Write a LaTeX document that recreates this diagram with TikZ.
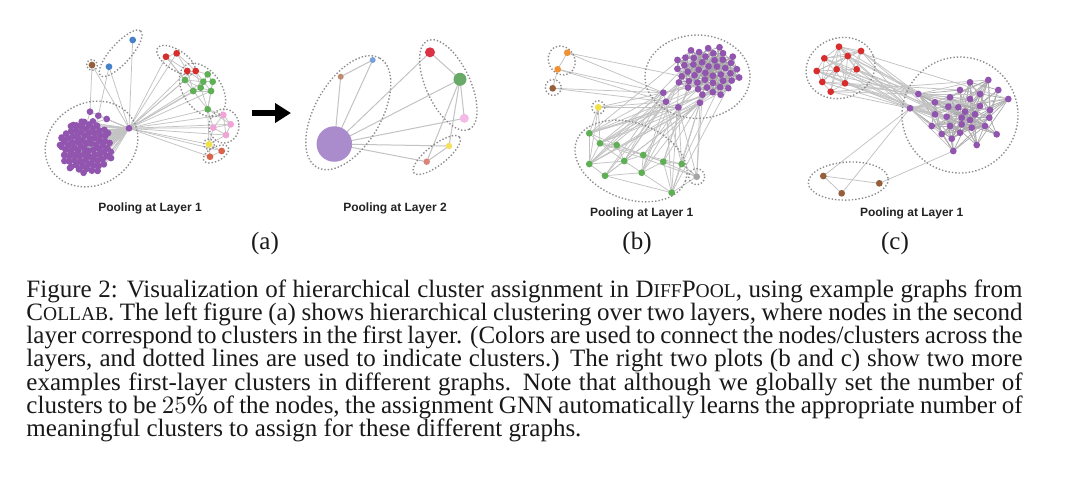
\documentclass[tikz,border=0pt]{standalone}
\usepackage{fontspec}
\setmainfont{Liberation Serif}
\newfontfamily\lsans{Liberation Sans}
\usetikzlibrary{arrows.meta,backgrounds}
\definecolor{apur}{RGB}{145,85,175}
\definecolor{agrn}{RGB}{95,175,85}
\definecolor{ared}{RGB}{215,45,45}
\definecolor{ablu}{RGB}{70,130,200}
\definecolor{abrn}{RGB}{150,95,60}
\definecolor{apnk}{RGB}{240,165,215}
\definecolor{aylw}{RGB}{240,225,70}
\definecolor{asal}{RGB}{215,100,75}
\definecolor{borg}{RGB}{240,145,50}
\definecolor{bgry}{RGB}{165,165,165}
\definecolor{lpur}{RGB}{170,140,205}
\definecolor{lred}{RGB}{220,50,70}
\definecolor{lgrn}{RGB}{105,170,105}
\definecolor{lpnk}{RGB}{245,185,230}
\definecolor{lylw}{RGB}{245,225,95}
\definecolor{lsal}{RGB}{220,130,120}
\definecolor{lbrn}{RGB}{190,140,110}
\definecolor{lblu}{RGB}{120,160,220}
\definecolor{edgec}{RGB}{195,195,195}
\definecolor{cluc}{RGB}{140,140,140}
\definecolor{labc}{RGB}{35,35,35}
\definecolor{capc}{RGB}{25,25,25}
\newcommand\sm[1]{{\fontsize{7.8pt}{9pt}\selectfont #1}}
\newcommand\clus[5]{\draw[clu, rotate around={#5:(#1,#2)}] (#1,#2) ellipse [x radius=#3, y radius=#4];}
\begin{document}
\begin{tikzpicture}[x=0.4pt,y=-0.4pt,
  dot/.style={circle,inner sep=0pt,minimum size=2.7pt,draw=none},
  ed/.style={draw=edgec,line width=0.3pt},
  clu/.style={draw=cluc,line width=0.55pt,dash pattern=on 0.55pt off 0.8pt},
  lab/.style={font=\lsans\bfseries\fontsize{4.8pt}{5pt}\selectfont, text=labc, inner sep=0pt, anchor=base},
  sub/.style={font=\fontsize{10pt}{12pt}\selectfont, text=capc, inner sep=0pt, anchor=base}]
\begin{scope}[on background layer]
\fill[white] (0,0) rectangle (1080,503);
\end{scope}
\useasboundingbox (0,0) rectangle (1080,503);
\pgfmathsetseed{2024}

%% ===== Panel (a), layer 1 =====
\clus{120.7}{53.3}{30}{10}{48}
\clus{92}{65}{5.5}{5.5}{0}
\clus{176}{60}{22}{10}{-33}
\clus{202.5}{90}{30}{19}{-55}
\clus{224}{126}{15}{17}{0}
\clus{209}{144.3}{5.5}{5.5}{0}
\clus{216}{154}{14}{7}{28}
\clus{91.5}{144}{48}{41}{30}

\foreach \i in {1,...,80}{
  \pgfmathsetmacro\rr{sqrt((\i-0.5)/80)}
  \pgfmathsetmacro\aa{\i*137.508}
  \node[dot,fill=apur] (A\i) at ({86+26*\rr*cos(\aa)},{147+27*\rr*sin(\aa)}) {};
}
\foreach \x/\y [count=\i] in {90/111.7,98.3/115.7,106.7/119,73.3/125,81.7/121.7,61.7/138.3,60/145,108/133,111/158,70/168}{
  \node[dot,fill=apur] (At\i) at (\x,\y) {};
}
\node[dot,fill=apur] (ah) at (129,128.3) {};
\node[dot,fill=ablu] (ab1) at (132.7,40) {};
\node[dot,fill=ablu] (ab2) at (109,66.7) {};
\node[dot,fill=abrn] (abr) at (92,65) {};
\foreach \n/\x/\y in {ar1/166/56.7,ar2/176.7/53.3,ar3/187.3/71,ar4/195.7/71}{
  \node[dot,fill=ared] (\n) at (\x,\y) {};
}
\foreach \n/\x/\y in {ag1/207.7/74.3,ag2/185/80,ag3/203.3/81.7,ag4/212.7/81.7,ag5/193.3/91,ag6/200.7/87.7,ag7/211/91,ag8/207.7/109.3}{
  \node[dot,fill=agrn] (\n) at (\x,\y) {};
}
\foreach \n/\x/\y in {ap1/223.3/115,ap2/230.7/124.3,ap3/213.3/127.7,ap4/226/135}{
  \node[dot,fill=apnk] (\n) at (\x,\y) {};
}
\node[dot,fill=aylw] (ay) at (209,144.3) {};
\node[dot,fill=asal] (ao1) at (210,156.7) {};
\node[dot,fill=asal] (ao2) at (221.7,151) {};

\begin{scope}[on background layer]
  \foreach \i in {1,...,80}{
    \foreach \k in {1,2,3}{
      \pgfmathtruncatemacro\j{random(1,80)}
      \draw[ed,draw=gray!70] (A\i.center) -- (A\j.center);
    }
    \pgfmathtruncatemacro\f{rnd<0.55?1:0}
    \ifnum\f=1 \draw[ed] (A\i.center) -- (ah.center);\fi
  }
  \foreach \i in {1,...,10}{
    \pgfmathtruncatemacro\j{random(1,80)}
    \draw[ed] (At\i.center) -- (A\j.center);
    \draw[ed] (At\i.center) -- (ah.center);
  }
  \foreach \u/\v in {ab1/ah,ab2/ah,ab2/At2,abr/At1,abr/ah,
    ah/ar1,ah/ar2,ah/ar3,ah/ar4,ah/ag2,ah/ag3,ah/ag5,ah/ag6,ah/ag7,ah/ag8,
    ah/ap1,ah/ap2,ah/ap3,ah/ap4,ah/ay,ah/ao1,ah/ao2,
    ar1/ar2,ar1/ar3,ar2/ar3,ar2/ar4,ar1/ag2,ar3/ar4,ar3/ag2,ar3/ag3,ar4/ag1,ar4/ag3,
    ar4/ag6,ar3/ag5,ag1/ag3,ag1/ag4,ag2/ag3,ag2/ag5,ag2/ag6,ag3/ag4,ag3/ag6,ag3/ag7,
    ag4/ag7,ag5/ag6,ag6/ag7,ag5/ag7,ag5/ag8,ag6/ag8,ag7/ag8,ag4/ag8,ag1/ag6,ar1/ag5,
    ap1/ap2,ap1/ap3,ap2/ap3,ap2/ap4,ap3/ap4,ap1/ap4,ag8/ap1,ag8/ap3,ag8/ap2,
    ay/ap3,ay/ap4,ay/ag8,ay/ao1,ay/ao2,ao1/ao2}{
    \draw[ed] (\u.center) -- (\v.center);
  }
\end{scope}
\node[lab] (la1) at (150,211) {Pooling at Layer 1};

\coordinate (arS) at (252,113);
\coordinate (arE) at (291,113);
\draw[line width=2.4pt,-{Triangle[length=6.4pt,width=7.6pt]}] (arS) -- (arE);

%% ===== Panel (a), layer 2 =====
\clus{348.3}{112.7}{63}{33}{60}
\clus{448.3}{85}{49}{22}{-65}
\clus{436.7}{155}{29}{10}{38}
\node[circle,inner sep=0pt,minimum size=14.2pt,fill=lpur] (lp) at (334.3,144) {};
\node[circle,inner sep=0pt,minimum size=2.4pt,fill=lbrn] (lb) at (340.7,76.7) {};
\node[circle,inner sep=0pt,minimum size=2.4pt,fill=lblu] (lu) at (372.7,60) {};
\node[circle,inner sep=0pt,minimum size=4pt,fill=lred] (lr) at (430,52.3) {};
\node[circle,inner sep=0pt,minimum size=5.2pt,fill=lgrn] (lg) at (460,79.3) {};
\node[circle,inner sep=0pt,minimum size=3.6pt,fill=lpnk] (lk) at (464.3,118.3) {};
\node[circle,inner sep=0pt,minimum size=2.6pt,fill=lylw] (ly) at (449,146) {};
\node[circle,inner sep=0pt,minimum size=2.6pt,fill=lsal] (ls) at (426.7,161.7) {};
\begin{scope}[on background layer]
  \foreach \u/\v in {lp/lb,lp/lu,lb/lu,lp/lr,lp/lg,lp/lk,lp/ly,lp/ls,lr/lg,lg/lk,lg/ly,lg/ls,ly/ls}{
    \draw[ed,line width=0.4pt] (\u.center) -- (\v.center);
  }
\end{scope}
\node[lab] (la2) at (395,211) {Pooling at Layer 2};

%% ===== Panel (b) =====
\clus{697.5}{76.7}{52.5}{41.7}{0}
\clus{631}{161}{58}{38}{-20}
\clus{561.7}{60.5}{13}{15}{30}
\clus{553.3}{87.5}{8}{8}{0}
\clus{598.3}{107.3}{6.5}{6.5}{0}
\clus{696.7}{176.7}{8}{8}{0}
\foreach \i in {1,...,46}{
  \pgfmathsetmacro\rr{sqrt((\i-0.5)/46)}
  \pgfmathsetmacro\aa{\i*137.508}
  \node[dot,fill=apur] (B\i) at ({708+34*\rr*cos(\aa)},{71+26*\rr*sin(\aa)}) {};
}
\foreach \n/\x/\y in {bq1/663.3/92.7,bq2/666/101.7,bq3/678.3/107.3,bq4/700/102.7}{
  \node[dot,fill=apur] (\n) at (\x,\y) {};
}
\node[dot,fill=borg] (bo1) at (567.3,52.7) {};
\node[dot,fill=borg] (bo2) at (557.7,69.3) {};
\node[dot,fill=abrn] (bb) at (552.7,88.3) {};
\node[dot,fill=aylw] (byl) at (598.3,107.3) {};
\node[dot,fill=bgry] (bgy) at (696.7,176.7) {};
\foreach \x/\y [count=\i] in {589.3/133.3,600/143.3,616.7/145,589.3/164,624.3/161,643.3/155,663.3/161.7,681.7/164,605/175.7,641.7/172.7,671.7/192.7}{
  \node[dot,fill=agrn] (bg\i) at (\x,\y) {};
}
\begin{scope}[on background layer]
  \foreach \i in {1,...,46}{
    \foreach \k in {1,2,3,4}{
      \pgfmathtruncatemacro\j{random(1,46)}
      \draw[ed,draw=gray!70] (B\i.center) -- (B\j.center);
    }
  }
  \foreach \s in {bq1,bq2,bq3,bq4}{
    \foreach \k in {1,2,3}{
      \pgfmathtruncatemacro\j{random(1,46)}
      \draw[ed] (\s.center) -- (B\j.center);
    }
    \foreach \t in {1,...,11}{
      \pgfmathtruncatemacro\f{rnd<0.55?1:0}
      \ifnum\f=1 \draw[ed] (\s.center) -- (bg\t.center);\fi
    }
  }
  \foreach \k in {1,...,16}{
    \pgfmathtruncatemacro\s{random(26,46)}
    \pgfmathtruncatemacro\t{random(1,11)}
    \draw[ed] (B\s.center) -- (bg\t.center);
  }
  \foreach \u/\v in {bo1/bo2,bo2/bb,bo1/bq1,bo1/B30,bo2/bq1,bo2/bq2,bb/bq1,bb/bq2,
    byl/bq1,byl/bq2,byl/bq3,byl/bg1,byl/bg2,byl/bg4,
    bgy/bq3,bgy/bq4,bgy/B40,bgy/bg7,bgy/bg8,bgy/bg11,bgy/bg2,
    bg1/bg2,bg1/bg4,bg2/bg3,bg2/bg4,bg2/bg5,bg3/bg5,bg3/bg6,bg4/bg5,bg4/bg9,bg5/bg6,
    bg5/bg9,bg5/bg10,bg6/bg7,bg6/bg10,bg7/bg8,bg7/bg10,bg7/bg11,bg8/bg11,bg9/bg10,
    bg10/bg11,bg1/bg3,bg2/bg6,bg3/bg7,bg6/bg8,bg9/bg11,bg8/bgy}{
    \draw[ed] (\u.center) -- (\v.center);
  }
\end{scope}
\node[lab] (lb1) at (641.7,216) {Pooling at Layer 1};

%% ===== Panel (c) =====
\clus{840.5}{68}{35}{30}{20}
\clus{960}{115}{58}{58}{0}
\clus{848.3}{181}{40}{19}{3}
\foreach \x/\y [count=\i] in {918.3/94,910/108.3,970/82.3,988.3/80,960/90,998.3/90,980/94,1008.3/99,
  935/102.3,950/97.3,970/99,948.3/106.7,958.3/107.3,980/106,990/110,935/114.3,946.7/116.7,
  961.7/117.7,975/114.3,989.3/117.7,931.7/126,950/126,961.7/124.3,971.7/127.7,985/126,
  941.7/134,951.7/138.7,960/132.7,996.7/134.3,976.7/145,953.3/151,970/120,965/111.7}{
  \node[dot,fill=apur] (cq\i) at (\x,\y) {};
}
\foreach \x/\y [count=\i] in {839/46.7,861/51,824.3/58.3,847.7/56,816.7/71,836.7/69.3,856.7/69.3,822.3/82,845/83.3,830.7/91.7}{
  \node[dot,fill=ared] (cr\i) at (\x,\y) {};
}
\node[dot,fill=abrn] (cn1) at (823.3,176) {};
\node[dot,fill=abrn] (cn2) at (841.7,193.3) {};
\node[dot,fill=abrn] (cn3) at (879.3,183.3) {};
\begin{scope}[on background layer]
  \foreach \i in {1,...,33}{
    \foreach \k in {1,2,3,4}{
      \pgfmathtruncatemacro\j{random(1,33)}
      \draw[ed,draw=gray!65] (cq\i.center) -- (cq\j.center);
    }
  }
  \foreach \j in {3,...,33}{
    \pgfmathtruncatemacro\f{rnd<0.4?1:0}
    \ifnum\f=1 \draw[ed] (cq1.center) -- (cq\j.center);\fi
    \pgfmathtruncatemacro\f{rnd<0.4?1:0}
    \ifnum\f=1 \draw[ed] (cq2.center) -- (cq\j.center);\fi
  }
  \foreach \i in {1,...,10}{
    \foreach \j in {\i,...,10}{
      \ifnum\i=\j\else
        \pgfmathtruncatemacro\f{rnd<0.7?1:0}
        \ifnum\f=1 \draw[ed] (cr\i.center) -- (cr\j.center);\fi
      \fi
    }
    \draw[ed] (cr\i.center) -- (cq1.center);
    \draw[ed] (cr\i.center) -- (cq2.center);
    \pgfmathtruncatemacro\j{random(3,33)}
    \draw[ed] (cr\i.center) -- (cq\j.center);
  }
  \foreach \u/\v in {cn1/cn2,cn1/cn3,cn1/cq2,cn2/cq2,cn3/cq31}{
    \draw[ed] (\u.center) -- (\v.center);
  }
\end{scope}
\node[lab] (lc1) at (911.7,216) {Pooling at Layer 1};

%% ===== Sub-labels and caption =====
\node[sub] (sa) at (265,249) {(a)};
\node[sub] (sb) at (637,249) {(b)};
\node[sub] (sc) at (895,249) {(c)};
\node[anchor=base west, inner sep=0pt, text width=398.4pt, align=justify, text=capc,
  font=\fontsize{10pt}{9.32pt}\selectfont] (cap) at (26,297) {\lineskiplimit=-5pt
Figure 2: Visualization of hierarchical cluster assignment in D\sm{IFF}P\sm{OOL}, using example graphs from\linebreak
C\sm{OLLAB}. The left figure (a) shows hierarchical clustering over two layers, where nodes in the second\linebreak
layer correspond to clusters in the first layer. (Colors are used to connect the nodes/clusters across the\linebreak
layers, and dotted lines are used to indicate clusters.) The right two plots (b and c) show two more\linebreak
examples first-layer clusters in different graphs. Note that although we globally set the number of\linebreak
clusters to be $25\%$ of the nodes, the assignment GNN automatically learns the appropriate number of\linebreak
meaningful clusters to assign for these different graphs.};
\end{tikzpicture}
\end{document}
